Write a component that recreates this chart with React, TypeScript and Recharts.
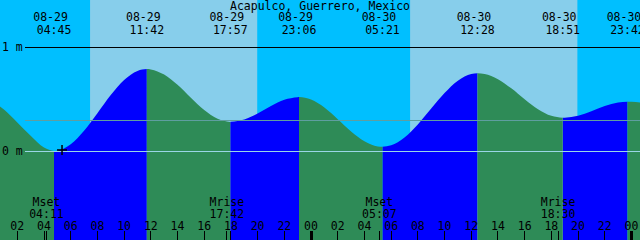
import React from 'react';
import {
  ComposedChart,
  Area,
  XAxis,
  YAxis,
  ReferenceArea,
  ReferenceLine,
  ReferenceDot,
} from 'recharts';

// ---------------- data ----------------
const title = 'Acapulco, Guerrero, Mexico';

// hours counted from 08-29 00:00
const tideHours = [
  0.704, 1, 2, 3, 4, 4.75,
  5, 6, 7, 8, 9, 10, 11, 11.7,
  12, 13, 14, 15, 16, 17, 17.95,
  18, 19, 20, 21, 22, 23, 23.1,
  24, 25, 26, 27, 28, 29, 29.35,
  30, 31, 32, 33, 34, 35, 36, 36.467,
  37, 38, 39, 40, 41, 42, 42.85,
  43, 44, 45, 46, 47, 47.7,
  48, 48.64,
];
const tideHeights = [
  0.43, 0.40, 0.275, 0.147, 0.034, 0.0,
  0.003, 0.065, 0.195, 0.365, 0.54, 0.685, 0.772, 0.79,
  0.787, 0.737, 0.638, 0.513, 0.395, 0.31, 0.28,
  0.281, 0.304, 0.362, 0.434, 0.494, 0.519, 0.52,
  0.496, 0.419, 0.307, 0.189, 0.094, 0.044, 0.04,
  0.055, 0.13, 0.256, 0.409, 0.559, 0.678, 0.742, 0.75,
  0.743, 0.692, 0.604, 0.499, 0.403, 0.339, 0.32,
  0.321, 0.341, 0.384, 0.433, 0.467, 0.475,
  0.474, 0.468,
];

const eventHours = [4.75, 11.7, 17.95, 23.1, 29.35, 36.467, 42.85, 47.7];
const eventKinds = ['L', 'H', 'L', 'H', 'L', 'H', 'L', 'H'];
const eventDates = ['08-29', '08-29', '08-29', '08-29', '08-30', '08-30', '08-30', '08-30'];
const eventTimes = ['04:45', '11:42', '17:57', '23:06', '05:21', '12:28', '18:51', '23:42'];

const hourTicks = [2, 4, 6, 8, 10, 12, 14, 16, 18, 20, 22, 24, 26, 28, 30, 32, 34, 36, 38, 40, 42, 44, 46, 48];

const moonHours = [4.183, 17.7, 29.117, 42.5];
const moonNames = ['Mset', 'Mrise', 'Mset', 'Mrise'];
const moonTimes = ['04:11', '17:42', '05:07', '18:30'];

const sunriseHours = [7.45, 31.42];
const sunsetHours = [19.97, 43.95];

const datumLevels = [1, 0];
const datumLabels = ['1 m', '0 m'];
const meanLevel = 0.296;

const nowHour = 5.35;
const nowHeight = 0.01;

// ---------------- layout / style ----------------
const W = 640;
const H = 240;
const X_DOMAIN: [number, number] = [0.704, 48.64];
const Y_DOMAIN: [number, number] = [-0.858, 1.456];
const FONT = 'DejaVu Sans Mono, monospace';
const FS = 11.5;
const NIGHT = '#00BFFF';
const DAY = '#87CEEB';
const FLOOD = '#0000FF';
const EBB = '#2E8B57';

const rows = tideHours.map((h, i) => {
  const v = tideHeights[i];
  const atEvent = eventHours.some((e) => Math.abs(e - h) < 0.005);
  const nextIdx = eventHours.findIndex((e) => e > h + 0.005);
  const risingAfter =
    nextIdx >= 0 ? eventKinds[nextIdx] === 'H' : eventKinds[eventKinds.length - 1] === 'L';
  return {
    h,
    rise: risingAfter || atEvent ? v : null,
    fall: !risingAfter || atEvent ? v : null,
  };
});

const pad = (n: number) => String(n).padStart(2, '0');

const textStyle = { fontFamily: FONT, fontSize: FS, fill: '#000' } as const;

export default function App() {
  return (
    <div style={{ position: 'absolute', left: 0, top: 0, width: W, height: H, background: NIGHT }}>
      <ComposedChart
        width={W}
        height={H}
        data={rows}
        margin={{ top: 0, right: 0, bottom: 0, left: 0 }}
      >
        <XAxis type="number" dataKey="h" domain={X_DOMAIN} allowDataOverflow hide />
        <YAxis type="number" domain={Y_DOMAIN} allowDataOverflow hide />

        {sunriseHours.map((r, i) => (
          <ReferenceArea
            key={'day' + i}
            x1={r}
            x2={sunsetHours[i]}
            fill={DAY}
            fillOpacity={1}
            stroke="none"
            ifOverflow="visible"
          />
        ))}

        <Area
          type="monotone"
          dataKey="rise"
          stroke="none"
          fill={FLOOD}
          fillOpacity={1}
          baseValue="dataMin"
          isAnimationActive={false}
          dot={false}
          activeDot={false}
        />
        <Area
          type="monotone"
          dataKey="fall"
          stroke="none"
          fill={EBB}
          fillOpacity={1}
          baseValue="dataMin"
          isAnimationActive={false}
          dot={false}
          activeDot={false}
        />

        {/* mean level line */}
        <ReferenceLine
          y={meanLevel}
          shape={(p: any) => (
            <line x1={p.x1 + 25} y1={p.y1} x2={p.x2} y2={p.y2} stroke="#5F9EA0" strokeWidth={1} shapeRendering="crispEdges" />
          )}
        />

        {/* datum lines with labels */}
        {datumLevels.map((lv, i) => (
          <ReferenceLine
            key={'dl' + i}
            y={lv}
            shape={(p: any) => (
              <g>
                <line
                  x1={p.x1 + 25}
                  y1={p.y1}
                  x2={p.x2}
                  y2={p.y2}
                  stroke={lv === 0 ? '#9AD6E6' : '#000'}
                  strokeWidth={1}
                  shapeRendering="crispEdges"
                />
                <text x={p.x1 + 2} y={p.y1 + 3.5} style={textStyle}>
                  {datumLabels[i]}
                </text>
              </g>
            )}
          />
        ))}

        {/* high/low event labels at top */}
        {eventHours.map((eh, i) => (
          <ReferenceLine
            key={'ev' + i}
            x={eh}
            shape={(p: any) => (
              <g>
                <text x={p.x1 - 3.5} y={21} textAnchor="middle" style={textStyle}>
                  {eventDates[i]}
                </text>
                <text x={p.x1} y={34} textAnchor="middle" style={textStyle}>
                  {eventTimes[i]}
                </text>
              </g>
            )}
          />
        ))}

        {/* hour ticks and labels at bottom */}
        {hourTicks.map((hh) => (
          <ReferenceLine
            key={'hr' + hh}
            x={hh}
            ifOverflow="visible"
            shape={(p: any) => (
              <g>
                <line
                  x1={p.x1}
                  y1={231}
                  x2={p.x1}
                  y2={240}
                  stroke="#000"
                  strokeWidth={hh % 24 === 0 ? 3 : 1}
                  shapeRendering="crispEdges"
                />
                <text x={p.x1} y={230} textAnchor="middle" style={textStyle}>
                  {pad(hh % 24)}
                </text>
              </g>
            )}
          />
        ))}

        {/* moon events */}
        {moonHours.map((mh, i) => (
          <ReferenceLine
            key={'mo' + i}
            x={mh}
            shape={(p: any) => (
              <g>
                <line x1={p.x1} y1={231} x2={p.x1} y2={240} stroke="#000" strokeWidth={1} shapeRendering="crispEdges" />
                <text x={p.x1} y={206} textAnchor="middle" style={textStyle}>
                  {moonNames[i]}
                </text>
                <text x={p.x1} y={218} textAnchor="middle" style={textStyle}>
                  {moonTimes[i]}
                </text>
              </g>
            )}
          />
        ))}

        {/* title */}
        <ReferenceLine
          x={(X_DOMAIN[0] + X_DOMAIN[1]) / 2}
          shape={(p: any) => (
            <text x={p.x1} y={10} textAnchor="middle" style={textStyle}>
              {title}
            </text>
          )}
        />

        {/* current time marker */}
        <ReferenceDot
          x={nowHour}
          y={nowHeight}
          shape={(p: any) => (
            <g>
              <line x1={p.cx - 5} y1={p.cy} x2={p.cx + 5} y2={p.cy} stroke="#000" strokeWidth={1.5} />
              <line x1={p.cx} y1={p.cy - 5} x2={p.cx} y2={p.cy + 5} stroke="#000" strokeWidth={1.5} />
            </g>
          )}
        />
      </ComposedChart>
    </div>
  );
}
